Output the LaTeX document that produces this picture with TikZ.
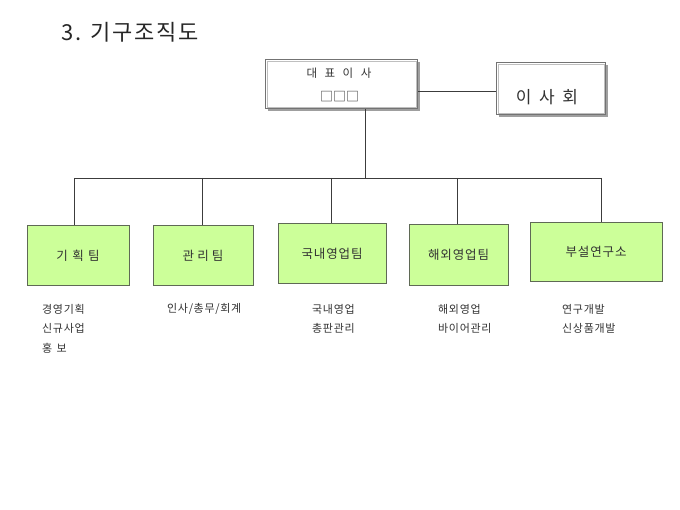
\documentclass[tikz,border=0pt]{standalone}
\usepackage{fontspec}
\setmainfont{Noto Sans CJK KR}
\definecolor{teamfill}{RGB}{204,255,153}
\definecolor{teamline}{RGB}{95,105,85}
\definecolor{txt}{RGB}{50,50,50}
\definecolor{conn}{RGB}{60,60,60}
\begin{document}
\begin{tikzpicture}[x=1pt,y=-1pt,
  team/.style={draw=teamline,fill=teamfill,line width=0.8pt,inner sep=0pt,
    text=txt,font=\fontsize{12.5}{14}\selectfont\addfontfeature{LetterSpace=7}},
  topbox/.style={draw=gray!90!black,line width=1pt,inner sep=0pt,text=txt},
  inner/.style={draw=gray!50,line width=0.5pt},
  sub/.style={anchor=west,text=txt,font=\fontsize{11}{12}\selectfont\addfontfeature{LetterSpace=6},inner sep=0pt},
  link/.style={draw=conn,line width=0.8pt}]
\useasboundingbox (0,0) rectangle (680,510);
\node[anchor=west,inner sep=0pt,text=black!85,font=\fontsize{22}{25}\selectfont\addfontfeature{LetterSpace=8}] (title) at (61,32) {3. 기구조직도};
% top boxes
\fill[gray!75] (268,62) rectangle (420,111);
\node[topbox,fill=white,minimum width=152pt,minimum height=49pt] (ceo) at (341.5,84) {};
\draw[inner] ([shift={(2pt,-2pt)}]ceo.north west) rectangle ([shift={(-2pt,2pt)}]ceo.south east);
\node[text=txt,font=\fontsize{11.5}{12}\selectfont,inner sep=0pt] (ceot) at (339,73) {대\hspace{0.65em}표\hspace{0.65em}이\hspace{0.65em}사};
\node[text=txt,font=\fontsize{13}{14}\selectfont,inner sep=0pt] (ceon) at (339.5,97) {□□□};
\fill[gray!75] (499,65) rectangle (608,117);
\node[topbox,fill=white,minimum width=109pt,minimum height=52pt] (board) at (551,89) {};
\draw[inner] ([shift={(2pt,-2pt)}]board.north west) rectangle ([shift={(-2pt,2pt)}]board.south east);
\node[text=txt,font=\fontsize{17}{18}\selectfont,inner sep=0pt] (boardt) at (547,97) {이\hspace{0.45em}사\hspace{0.45em}회};
% teams
\node[team,minimum width=102pt,minimum height=60pt] (b1) at (78,255.5) {기\hspace{0.35em}획\hspace{0.35em}팀};
\node[team,minimum width=100pt,minimum height=60pt] (b2) at (203,255.5) {관\hspace{0.25em}리\hspace{0.25em}팀};
\node[team,minimum width=108pt,minimum height=60pt] (b3) at (332,253.5) {국내영업팀};
\node[team,minimum width=99pt,minimum height=61pt] (b4) at (458.5,254.5) {해외영업팀};
\node[team,minimum width=132pt,minimum height=59pt] (b5) at (596,251.5) {부설연구소};
% connectors
\coordinate (bus) at (365,178);
\coordinate (ceoE) at ([yshift=-7pt]ceo.east);
\draw[link] (ceoE) -- (board.west |- ceoE);
\draw[link] (ceo.south -| bus) -- (bus);
\draw[link] ([xshift=-4pt]b1.north |- bus) -- ([xshift=5pt]b5.north |- bus);
\draw[link] ([xshift=-4pt]b1.north |- bus) -- ([xshift=-4pt]b1.north);
\draw[link] ([xshift=-1pt]b2.north |- bus) -- ([xshift=-1pt]b2.north);
\draw[link] ([xshift=-1pt]b3.north |- bus) -- ([xshift=-1pt]b3.north);
\draw[link] ([xshift=-1.5pt]b4.north |- bus) -- ([xshift=-1.5pt]b4.north);
\draw[link] ([xshift=5pt]b5.north |- bus) -- ([xshift=5pt]b5.north);
% sub texts
\node[sub] (s11) at (42,309) {경영기획};
\node[sub] (s12) at (42,328) {신규사업};
\node[sub] (s13) at (42,348) {홍\hspace{0.4em}보};
\node[sub] (s21) at (167,309) {인사/총무/회계};
\node[sub] (s31) at (312,309) {국내영업};
\node[sub] (s32) at (312,328) {총판관리};
\node[sub] (s41) at (438,309) {해외영업};
\node[sub] (s42) at (438,328) {바이어관리};
\node[sub] (s51) at (562,309) {연구개발};
\node[sub] (s52) at (562,328) {신상품개발};
\end{tikzpicture}
\end{document}
